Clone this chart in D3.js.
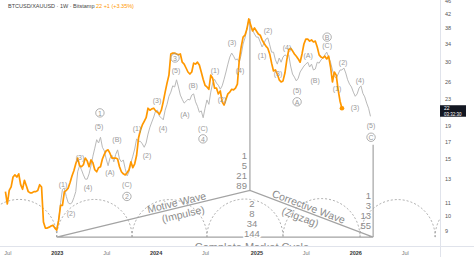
<!DOCTYPE html>
<html>
<head>
<meta charset="utf-8">
<script src="https://cdn.jsdelivr.net/npm/d3@7"></script>
<style>
  html, body { margin: 0; padding: 0; background: #fff; }
  svg { display: block; font-family: "Liberation Sans", Arial, sans-serif; }
</style>
</head>
<body>
<div id="chart"></div>
<script>
// BTCUSD/XAUUSD weekly, with an Elliott-wave projection overlay.
const firstWeek = "2022-06-27";

// weekly closes, BTC priced in ounces of gold
const ratio = [
  11.9, 10.9, 12.0, 12.3, 13.2, 13.4, 13.2, 13.5, 12.5, 12.1,
  12.9, 12.4, 11.9, 11.8, 11.8, 11.9, 11.9, 12.0, 12.5, 12.3,
  9.59, 9.19, 9.19, 9.25, 9.32, 9.38, 9.19, 9.06, 9.72, 10.8,
  10.8, 11.9, 12.0, 12.2, 12.7, 13.3, 13.8, 14.5, 15.1, 14.3,
  14.2, 14.4, 15.1, 14.8, 14.2, 14.9, 14.6, 13.9, 13.7, 14.1,
  14.2, 15.0, 15.5, 15.9, 16.0, 15.6, 15.1, 15.1, 15.1, 15.0,
  14.2, 13.7, 13.5, 13.4, 13.6, 13.9, 14.7, 14.1, 14.5, 15.4,
  17.4, 18.4, 19.1, 19.6, 20.1, 21.5, 21.2, 21.4, 21.5, 21.1,
  20.9, 20.6, 21.2, 22.5, 24.1, 25.7, 27.2, 31.6, 31.8, 31.8,
  31.6, 31.4, 31.6, 29.8, 29.4, 28.6, 27.8, 27.4, 27.8, 29.6,
  29.4, 29.8, 29.2, 27.8, 26.4, 25.3, 25.0, 24.6, 27.2, 26.6,
  24.8, 24.8, 23.8, 24.3, 22.5, 22.0, 22.9, 23.8, 24.1, 24.6,
  24.5, 24.8, 25.5, 30.3, 33.2, 35.6, 36.1, 37.7, 40.5, 38.8,
  37.2, 38.0, 37.2, 36.4, 36.1, 34.9, 34.1, 33.4, 32.9, 31.6,
  29.6, 28.0, 28.2, 27.4, 26.3, 25.9, 26.1, 27.6, 30.3, 32.5,
  32.9, 32.3, 31.6, 31.1, 30.5, 29.8, 31.6, 33.9, 35.1, 35.1,
  34.6, 34.9, 34.4, 34.6, 33.2, 31.4, 30.9, 30.7, 31.1, 30.5,
  31.1, 28.8, 25.9, 27.8, 27.2, 24.5, 22.6, 21.5
];

// grey wave projection, starts at week index projStart
const projStart = 27;
const projection = [
  9.19, 9.72, 11.0, 12.1, 12.2, 11.5, 11.0, 10.9, 11.0, 11.4,
  11.9, 13.7, 14.3, 13.9, 13.4, 13.0, 13.0, 13.5, 14.3, 15.3,
  16.2, 17.2, 16.8, 17.5, 16.3, 15.9, 15.0, 14.3, 15.1, 15.4,
  14.7, 15.5, 16.0, 15.0, 14.7, 14.9, 14.0, 13.3, 13.7, 14.6,
  15.3, 16.1, 17.3, 17.0, 17.0, 16.7, 16.3, 16.8, 17.9, 18.8,
  19.5, 20.2, 21.1, 21.2, 20.3, 20.1, 19.8, 21.2, 22.1, 23.4,
  24.1, 25.2, 25.0, 26.3, 25.0, 23.6, 22.9, 22.3, 22.6, 22.9,
  22.8, 23.6, 23.8, 22.5, 21.8, 20.9, 21.1, 20.1, 21.5, 22.8,
  22.1, 24.1, 25.7, 26.4, 25.7, 25.3, 24.6, 25.2, 26.4, 27.8,
  29.4, 30.9, 31.8, 31.1, 30.3, 30.5, 29.8, 31.4, 33.9, 35.4,
  37.7, 40.2, 38.5, 37.4, 36.4, 35.6, 35.6, 34.4, 33.2, 34.1,
  35.1, 35.4, 33.7, 32.0, 32.0, 30.3, 29.4, 30.7, 29.8, 30.9,
  31.4, 31.1, 31.4, 29.0, 27.4, 26.8, 26.1, 26.6, 27.8, 28.4,
  29.0, 29.4, 29.8, 28.8, 29.4, 28.2, 28.4, 29.8, 29.6, 30.3,
  30.7, 31.4, 32.0, 30.9, 29.8, 28.2, 27.0, 26.6, 27.4, 28.2,
  28.2, 28.6, 27.6, 26.3, 25.5, 25.0, 24.1, 23.4, 23.8, 24.8,
  25.2, 23.9, 23.3, 22.3, 21.5, 20.3
];

// [text, week index, value, circled]
const waveLabels = [
  ["(1)", 30.3, 12.5], ["(2)", 34.5, 10.2], ["(3)", 39.2, 15.2], ["(4)", 43.4, 12.3],
  ["1", 49.7, 20.8, true], ["(5)", 49.2, 18.9], ["(A)", 55.0, 13.7], ["(B)", 58.7, 17.2],
  ["(C)", 63.9, 12.5], ["2", 63.9, 11.5, true],
  ["(1)", 69.2, 18.7], ["(2)", 74.5, 15.4], ["(3)", 79.7, 22.8], ["(4)", 82.9, 18.7],
  ["3", 89.2, 30.7, true], ["(5)", 89.7, 28.2], ["(A)", 94.4, 20.6], ["(B)", 98.7, 25.3],
  ["(C)", 103.9, 18.7], ["4", 103.9, 17.3, true],
  ["(1)", 110.2, 28.2], ["(2)", 113.9, 22.9], ["(3)", 119.2, 34.4], ["(4)", 123.4, 28.2],
  ["(1)", 135.0, 31.4], ["(2)", 138.1, 37.4], ["(3)", 143.4, 27.6], ["(4)", 148.1, 33.2],
  ["(5)", 153.4, 24.5], ["A", 153.4, 22.5, true],
  ["(A)", 159.2, 31.4], ["(B)", 162.9, 26.3], ["B", 169.2, 35.6, true], ["(C)", 169.2, 33.7],
  ["(1)", 174.4, 24.8], ["(2)", 177.6, 29.8], ["(3)", 183.9, 21.7], ["(4)", 186.5, 26.3],
  ["(5)", 192.3, 19.1], ["C", 192.3, 17.5, true]
];

// time-cycle arcs (week indices) and the market-cycle triangle
const cycleWeeks = [-12.6, 27, 66.6, 106, 146, 186.5, 226, 265.5];
const cycleBase = 8.62;
const motiveStart = 27, apexWeek = 128.6, apexValue = 12.0, peakValue = 40.5;
const cycleEnd = 193.4, endMarkTop = 16.6;
const fibUp = ["1", "5", "21", "89"];
const fibDown = ["2", "8", "34", "144"];
const fibEnd = ["1", "3", "13", "55"];

const yTicks = [9, 10, 11, 13, 15, 17, 19, 23, 26, 30, 34, 38, 42, 46];
const xTickDates = ["2022-07-04", "2023-01-02", "2023-07-03", "2024-01-01", "2024-07-01",
  "2025-01-06", "2025-07-07", "2026-01-05", "2026-07-06"];

const W = 474, H = 257, plotW = 440, plotH = 246;
const orange = "#ff9800", grey = "#9a9a9a";

const t0 = d3.utcParse("%Y-%m-%d")(firstWeek);
const weekDate = (i) => new Date(t0.getTime() + i * 7 * 864e5);

const x = d3.scaleUtc().domain([new Date(Date.UTC(2022, 5, 7)), new Date(Date.UTC(2026, 10, 13))]).range([0, plotW]);
const y = d3.scaleLog().domain([9, 46]).range([231, 1]);
const xw = (w) => x(weekDate(w));

const svg = d3.select("#chart").append("svg").attr("width", W).attr("height", H);
svg.append("clipPath").attr("id", "plot").append("rect").attr("width", plotW).attr("height", plotH);
const g = svg.append("g").attr("clip-path", "url(#plot)");

// dashed cycle arcs
const yb = y(cycleBase);
g.append("g").selectAll("path").data(d3.pairs(cycleWeeks)).join("path")
  .attr("d", ([a, b]) => {
    const x1 = xw(a), x2 = xw(b), r = (x2 - x1) / 2;
    return `M${x1},${yb}A${r},${r} 0 0 1 ${x2},${yb}`;
  })
  .attr("fill", "none").attr("stroke", "#8a8a8a").attr("stroke-width", 0.7).attr("stroke-dasharray", "2,2");

// triangle + verticals
const xs = xw(motiveStart), xa = xw(apexWeek), xe = xw(cycleEnd), ya = y(apexValue);
const lineStyle = (s) => s.attr("fill", "none").attr("stroke", "#a3a3a3").attr("stroke-width", 1.2);
g.append("path").attr("d", `M${xs},${yb}L${xa},${ya}L${xe},${yb}Z`).call(lineStyle);
g.append("line").attr("x1", xa).attr("x2", xa).attr("y1", y(peakValue)).attr("y2", ya).call(lineStyle);
g.append("line").attr("x1", xe).attr("x2", xe).attr("y1", y(endMarkTop)).attr("y2", yb).call(lineStyle);

// wave names along the triangle legs
function legText(x1, y1, x2, y2, t, off, txt) {
  const ang = Math.atan2(y2 - y1, x2 - x1) * 180 / Math.PI;
  const cx = x1 + (x2 - x1) * t, cy = y1 + (y2 - y1) * t;
  g.append("text").attr("transform", `translate(${cx},${cy}) rotate(${ang})`)
    .attr("y", off).attr("text-anchor", "middle").attr("dominant-baseline", "central")
    .attr("font-size", 10.5).attr("fill", "#8c8c8c").text(txt);
}
legText(xs, yb, xa, ya, 0.627, -5.8, "Motive Wave");
legText(xs, yb, xa, ya, 0.645, 7, "(Impulse)");
legText(xa, ya, xe, yb, 0.46, -5.8, "Corrective Wave");
legText(xa, ya, xe, yb, 0.43, 6.8, "(Zigzag)");

// fibonacci counts
const fib = g.append("g").attr("font-size", 9.5).attr("fill", "#8c8c8c").attr("dominant-baseline", "central");
fib.selectAll(".up").data(fibUp).join("text").attr("x", xa - 3).attr("y", (d, i) => ya - 35 + i * 10)
  .attr("text-anchor", "end").text((d) => d);
fib.selectAll(".dn").data(fibDown).join("text").attr("x", xa + 2).attr("y", (d, i) => ya + 13 + i * 10)
  .attr("text-anchor", "middle").attr("paint-order", "stroke").attr("stroke", "#fff").attr("stroke-width", 3)
  .text((d) => d);
fib.selectAll(".end").data(fibEnd).join("text").attr("x", xe - 2).attr("y", (d, i) => yb - 42 + i * 10.3)
  .attr("text-anchor", "end").text((d) => d);
g.append("text").attr("x", xa + 2).attr("y", yb + 14).attr("text-anchor", "middle")
  .attr("font-size", 11).attr("fill", "#8c8c8c").text("Complete Market Cycle");

// projection and price lines
g.append("path").datum(projection)
  .attr("d", d3.line().x((d, i) => xw(projStart + i)).y((d) => y(d)))
  .attr("fill", "none").attr("stroke", "#b9b9b9").attr("stroke-width", 1).attr("stroke-linejoin", "round");
g.append("path").datum(ratio)
  .attr("d", d3.line().x((d, i) => xw(i)).y((d) => y(d)))
  .attr("fill", "none").attr("stroke", orange).attr("stroke-width", 1.7).attr("stroke-linejoin", "round");
const last = ratio.length - 1;
g.append("circle").attr("cx", xw(last)).attr("cy", y(ratio[last])).attr("r", 2.3).attr("fill", orange);

// wave labels
const lg = g.append("g").attr("font-size", 7).attr("fill", grey).attr("text-anchor", "middle")
  .attr("dominant-baseline", "central");
for (const [t, w, v, circ] of waveLabels) {
  if (circ) lg.append("circle").attr("cx", xw(w)).attr("cy", y(v)).attr("r", 4.2)
    .attr("fill", "none").attr("stroke", grey).attr("stroke-width", 0.8);
  lg.append("text").attr("x", xw(w)).attr("y", y(v) + 0.3).text(t);
}

// panes
svg.append("line").attr("x1", plotW + 0.5).attr("x2", plotW + 0.5).attr("y1", 0).attr("y2", H).attr("stroke", "#e0e3eb");
svg.append("line").attr("x1", 0).attr("x2", W).attr("y1", plotH + 0.5).attr("y2", plotH + 0.5).attr("stroke", "#e0e3eb");

// price axis
const ya2 = svg.append("g").attr("transform", `translate(${plotW + 2},0)`)
  .call(d3.axisRight(y).tickValues(yTicks).tickSize(0).tickFormat(d3.format("d")));
ya2.select(".domain").remove();
ya2.selectAll("text").attr("font-size", 5.5).attr("fill", "#555").attr("font-family", "Liberation Sans, Arial");

// time axis
const parse = d3.utcParse("%Y-%m-%d");
const xa2 = svg.append("g").attr("transform", `translate(0,${plotH + 2})`)
  .call(d3.axisBottom(x).tickValues(xTickDates.map(parse)).tickSize(0)
    .tickFormat((d) => (d.getUTCMonth() === 0 ? d3.utcFormat("%Y")(d) : d3.utcFormat("%b")(d))));
xa2.select(".domain").remove();
xa2.selectAll("text").attr("font-size", 5.5).attr("font-family", "Liberation Sans, Arial")
  .attr("fill", (d) => (d.getUTCMonth() === 0 ? "#333" : "#777"))
  .attr("font-weight", (d) => (d.getUTCMonth() === 0 ? "bold" : "normal"));

// last price tag
const py = y(ratio[last]);
svg.append("rect").attr("x", plotW).attr("y", py - 3).attr("width", 26).attr("height", 11.5).attr("fill", "#131722");
svg.append("text").attr("x", plotW + 4).attr("y", py).attr("dominant-baseline", "central")
  .attr("font-size", 5).attr("fill", "#fff").text(d3.format(".0f")(ratio[last]));
svg.append("text").attr("x", plotW + 4).attr("y", py + 6).attr("dominant-baseline", "central")
  .attr("font-size", 4.5).attr("fill", "#fff").text("03:32:30");

// header
const hd = svg.append("text").attr("x", 8).attr("y", 8).attr("font-size", 5.5);
hd.append("tspan").attr("fill", "#444").text("BTCUSD/XAUUSD · 1W · Bitstamp ");
hd.append("tspan").attr("fill", orange).text(" 22  +1 (+3.35%)");
</script>
</body>
</html>
